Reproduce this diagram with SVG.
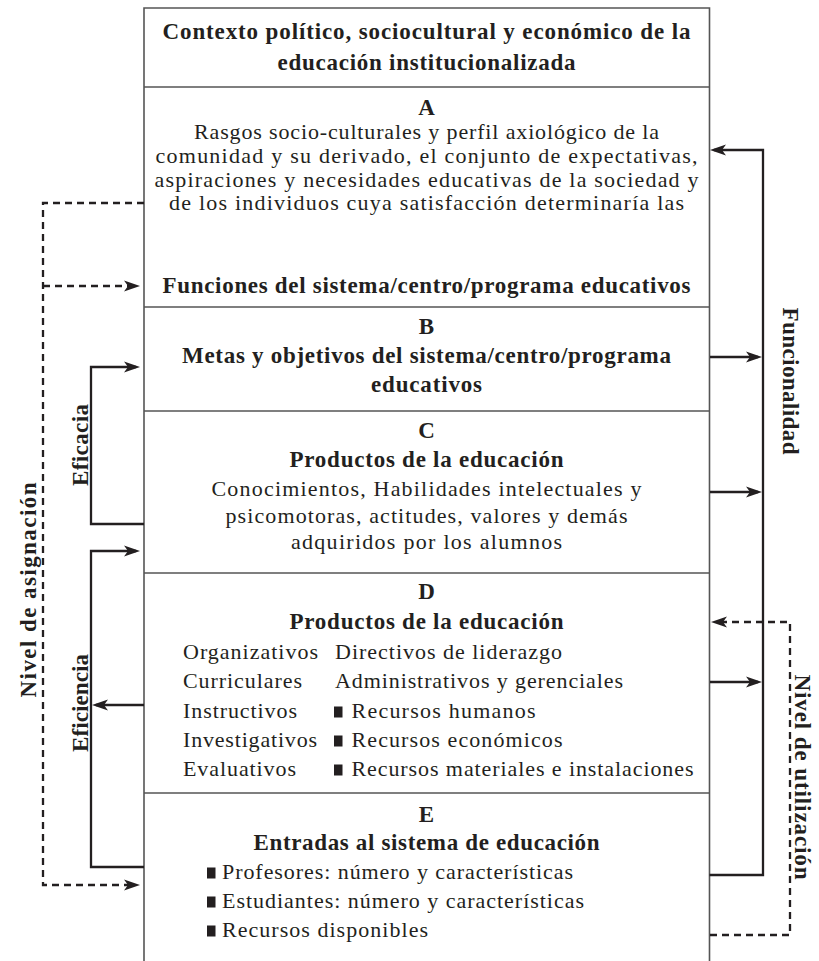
<svg xmlns="http://www.w3.org/2000/svg" width="819" height="961" viewBox="0 0 819 961" font-family="'Liberation Serif', serif">
<style>
.t{font-family:'Liberation Serif',serif;fill:#231f20;font-size:22px}
.b{font-weight:bold;font-size:23px}
.c{text-anchor:middle}
.box{stroke:#555;stroke-width:1.6;fill:none}
.con{stroke:#231f20;stroke-width:2.3;fill:none}
.dash{stroke-dasharray:7 5}
.sq{fill:#231f20}
</style>
<defs>
<marker id="ah" markerUnits="userSpaceOnUse" viewBox="-13 -7 18 14" refX="0" refY="0" markerWidth="18" markerHeight="14" orient="auto">
<path d="M4,0 L-12,-5.5 L-8,0 L-12,5.5 Z" fill="#231f20" stroke="none"/>
</marker>
</defs>
<rect width="819" height="961" fill="#fff"/>

<g id="frame" class="box">
<path d="M144,961 V8 H709.5 V961"/>
<path d="M144,87 H709.5 M144,307 H709.5 M144,411 H709.5 M144,573 H709.5 M144,793 H709.5"/>
</g>

<g id="contexto" class="t b c" font-family="'Liberation Serif', serif">
<text x="426.5" y="39" textLength="528">Contexto político, sociocultural y económico de la</text>
<text x="426.5" y="70" textLength="298">educación institucionalizada</text>
</g>

<g id="A" font-family="'Liberation Serif', serif">
<text class="t b c" x="426.5" y="115">A</text>
<g class="t c">
<text x="426.5" y="139" textLength="465">Rasgos socio-culturales y perfil axiológico de la</text>
<text x="426.5" y="163" textLength="542">comunidad y su derivado, el conjunto de expectativas,</text>
<text x="426.5" y="187" textLength="544">aspiraciones y necesidades educativas de la sociedad y</text>
<text x="426.5" y="210" textLength="515">de los individuos cuya satisfacción determinaría las</text>
</g>
<text class="t b c" x="426.5" y="293" textLength="528">Funciones del sistema/centro/programa educativos</text>
</g>

<g id="B" class="t b c" font-family="'Liberation Serif', serif">
<text x="426.5" y="334">B</text>
<text x="426.5" y="363" textLength="489">Metas y objetivos del sistema/centro/programa</text>
<text x="426.5" y="392" textLength="111">educativos</text>
</g>

<g id="C" font-family="'Liberation Serif', serif">
<text class="t b c" x="426.5" y="438">C</text>
<text class="t b c" x="426.5" y="467" textLength="274">Productos de la educación</text>
<g class="t c">
<text x="426.5" y="496" textLength="430">Conocimientos, Habilidades intelectuales y</text>
<text x="426.5" y="523" textLength="402">psicomotoras, actitudes, valores y demás</text>
<text x="426.5" y="549" textLength="271">adquiridos por los alumnos</text>
</g>
</g>

<g id="D" font-family="'Liberation Serif', serif">
<text class="t b c" x="426.5" y="599">D</text>
<text class="t b c" x="426.5" y="629" textLength="274">Productos de la educación</text>
<g class="t">
<text x="183" y="659" textLength="135">Organizativos</text>
<text x="183" y="688" textLength="119">Curriculares</text>
<text x="183" y="718" textLength="114">Instructivos</text>
<text x="183" y="747" textLength="134">Investigativos</text>
<text x="183" y="776" textLength="113">Evaluativos</text>
<text x="335" y="659" textLength="227">Directivos de liderazgo</text>
<text x="335" y="688" textLength="288">Administrativos y gerenciales</text>
<text x="351.5" y="718" textLength="184">Recursos humanos</text>
<text x="351.5" y="747" textLength="211">Recursos económicos</text>
<text x="351.5" y="776" textLength="342">Recursos materiales e instalaciones</text>
</g>
<rect class="sq" x="334" y="706.5" width="8.5" height="11"/>
<rect class="sq" x="334" y="735.5" width="8.5" height="11"/>
<rect class="sq" x="334" y="764.5" width="8.5" height="11"/>
</g>

<g id="E" font-family="'Liberation Serif', serif">
<text class="t b c" x="426.5" y="822">E</text>
<text class="t b c" x="426.5" y="850" textLength="346">Entradas al sistema de educación</text>
<g class="t">
<text x="222" y="879" textLength="351">Profesores: número y características</text>
<text x="222" y="908" textLength="362">Estudiantes: número y características</text>
<text x="222" y="937" textLength="206">Recursos disponibles</text>
</g>
<rect class="sq" x="207" y="867.5" width="8.5" height="11"/>
<rect class="sq" x="207" y="896.5" width="8.5" height="11"/>
<rect class="sq" x="207" y="925.5" width="8.5" height="11"/>
</g>

<g id="connectors">
<path class="con" d="M709.5,875 H763 V150 H714" marker-end="url(#ah)"/>
<path class="con" d="M710,357 H758" marker-end="url(#ah)"/>
<path class="con" d="M710,492 H758" marker-end="url(#ah)"/>
<path class="con" d="M710,682 H758" marker-end="url(#ah)"/>
<path class="con dash" d="M710,935 H790 V622 H715" marker-end="url(#ah)"/>
<path class="con dash" d="M144,203 H43 V885 H136" marker-end="url(#ah)"/>
<path class="con dash" d="M43,286 H136" marker-end="url(#ah)"/>
<path class="con" d="M144,524 H91 V367 H136" marker-end="url(#ah)"/>
<path class="con" d="M144,867 H91 V551 H136" marker-end="url(#ah)"/>
<path class="con" d="M144,705 H96" marker-end="url(#ah)"/>
</g>

<g id="labels" class="t b c" font-family="'Liberation Serif', serif">
<text transform="translate(36,590) rotate(-90)" textLength="215">Nivel de asignación</text>
<text transform="translate(88,445) rotate(-90)" textLength="82">Eficacia</text>
<text transform="translate(88,703) rotate(-90)" textLength="98">Eficiencia</text>
<text transform="translate(783,381) rotate(90)" textLength="147">Funcionalidad</text>
<text transform="translate(795,777) rotate(90)" textLength="205">Nivel de utilización</text>
</g>
</svg>
